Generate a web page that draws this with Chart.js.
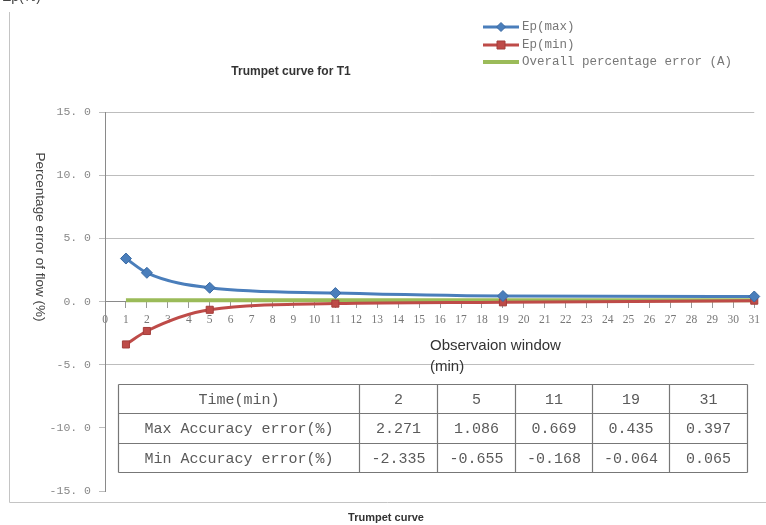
<!DOCTYPE html>
<html>
<head>
<meta charset="utf-8">
<style>
  html, body { margin: 0; padding: 0; background: #ffffff; }
  #wrap { width: 766px; height: 525px; position: relative; }
  canvas { display: block; }
</style>
<script src="https://cdn.jsdelivr.net/npm/chart.js@4.4.1/dist/chart.umd.min.js"></script>
</head>
<body>
<div id="wrap"><canvas id="trumpet" width="766" height="525"></canvas></div>
<script>
// Observation windows (min) at which the errors were evaluated
const times = [1, 2, 5, 11, 19, 31];
// Maximum / minimum percentage error for each window (%)
const epMax = [3.4, 2.271, 1.086, 0.669, 0.435, 0.397];
const epMin = [-3.4, -2.335, -0.655, -0.168, -0.064, 0.065];
// Overall percentage error (A), flat reference line (%)
const overallError = [0.1, 0.1, 0.1, 0.1, 0.1, 0.1];

const seriesNames = ['Ep(max)', 'Ep(min)', 'Overall percentage error (A)'];
const yTickValues = [-15, -10, -5, 0, 5, 10, 15];
const yTickLabels = ['-15. 0', '-10. 0', '-5. 0', '0. 0', '5. 0', '10. 0', '15. 0'];

// Summary table rows (windows 2..31)
const tableHeader = 'Time(min)';
const tableRowNames = ['Max Accuracy error(%)', 'Min Accuracy error(%)'];

const BLUE = '#4a7ebb';
const RED = '#be4b48';
const GREEN = '#9bbb59';
const MONO = '"Liberation Mono", "DejaVu Sans Mono", monospace';
const SANS = '"Liberation Sans", Arial, sans-serif';

const toXY = (vals) => times.map((t, i) => ({ x: t, y: vals[i] }));

const decor = {
  id: 'sheetDecor',
  beforeDatasetsDraw(chart) {
    const { ctx, chartArea, scales } = chart;
    const y5 = scales.y.getPixelForValue(-5);
    const y15 = scales.y.getPixelForValue(-15);
    // blank band under the -5 grid line where the summary table sits
    ctx.save();
    ctx.fillStyle = '#ffffff';
    ctx.fillRect(chartArea.left + 1, y5 + 2, chart.width - chartArea.left - 1, y15 - y5 + 4);
    ctx.restore();
  },
  afterDraw(chart) {
    const { ctx } = chart;
    const ds = chart.data.datasets;
    ctx.save();

    // outer sheet frame
    ctx.strokeStyle = '#c4c4c4';
    ctx.lineWidth = 1;
    ctx.beginPath();
    ctx.moveTo(9.5, 12);
    ctx.lineTo(9.5, 502.5);
    ctx.lineTo(766, 502.5);
    ctx.stroke();

    // unit label in the top-left corner, running off the top edge
    ctx.fillStyle = '#444';
    ctx.font = '14px ' + SANS;
    ctx.textAlign = 'left';
    ctx.textBaseline = 'alphabetic';
    ctx.fillText('Ep(%)', 2, 1);

    // chart title
    ctx.fillStyle = '#333';
    ctx.font = 'bold 12px ' + SANS;
    ctx.textAlign = 'center';
    ctx.textBaseline = 'middle';
    ctx.fillText('Trumpet curve for T1', 291, 72);

    // legend
    const lx = 483, lw = 36;
    const rowsY = [27, 45, 62];
    ds.forEach((d, i) => {
      const y = rowsY[i];
      ctx.strokeStyle = d.borderColor;
      ctx.lineWidth = i === 2 ? 4 : 3;
      ctx.beginPath();
      ctx.moveTo(lx, y);
      ctx.lineTo(lx + lw, y);
      ctx.stroke();
      if (d.pointRadius > 0) {
        ctx.fillStyle = d.pointBackgroundColor;
        ctx.strokeStyle = d.pointBorderColor;
        ctx.lineWidth = 1;
        ctx.beginPath();
        const cx = lx + lw / 2;
        if (d.pointStyle === 'rectRot') {
          const r = 4.5;
          ctx.moveTo(cx, y - r); ctx.lineTo(cx + r, y); ctx.lineTo(cx, y + r); ctx.lineTo(cx - r, y); ctx.closePath();
        } else {
          ctx.rect(cx - 4, y - 4, 8, 8);
        }
        ctx.fill();
        ctx.stroke();
      }
      ctx.fillStyle = '#777';
      ctx.font = '12.5px ' + MONO;
      ctx.textAlign = 'left';
      ctx.textBaseline = 'middle';
      ctx.fillText(d.label, lx + lw + 3, y);
    });

    // y axis title, reading top to bottom
    ctx.save();
    ctx.translate(40, 237);
    ctx.rotate(Math.PI / 2);
    ctx.fillStyle = '#444';
    ctx.font = '13.5px ' + SANS;
    ctx.textAlign = 'center';
    ctx.textBaseline = 'middle';
    ctx.fillText('Percentage error of flow (%)', 0, 0);
    ctx.restore();

    // x axis title
    ctx.fillStyle = '#333';
    ctx.font = '15px ' + SANS;
    ctx.textAlign = 'left';
    ctx.textBaseline = 'middle';
    ctx.fillText('Observaion window', 430, 346);
    ctx.fillText('(min)', 430, 367);

    // summary table
    const colX = [118.5, 359.5, 437.5, 515.5, 592.5, 669.5, 747.5];
    const rowY = [384.5, 413.5, 443.5, 472.5];
    ctx.fillStyle = '#ffffff';
    ctx.fillRect(colX[0], rowY[0], colX[6] - colX[0], rowY[3] - rowY[0]);
    ctx.strokeStyle = '#777';
    ctx.lineWidth = 1.2;
    ctx.beginPath();
    colX.forEach(x => { ctx.moveTo(x, rowY[0]); ctx.lineTo(x, rowY[3]); });
    rowY.forEach(y => { ctx.moveTo(colX[0], y); ctx.lineTo(colX[6], y); });
    ctx.stroke();

    const cells = [
      [tableHeader].concat(times.slice(1).map(String)),
      [tableRowNames[0]].concat(epMax.slice(1).map(v => v.toFixed(3))),
      [tableRowNames[1]].concat(epMin.slice(1).map(v => v.toFixed(3)))
    ];
    ctx.fillStyle = '#5a5a5a';
    ctx.font = '15px ' + MONO;
    ctx.textAlign = 'center';
    ctx.textBaseline = 'middle';
    cells.forEach((row, r) => {
      const cy = (rowY[r] + rowY[r + 1]) / 2 + 1;
      row.forEach((txt, c) => {
        ctx.fillText(txt, (colX[c] + colX[c + 1]) / 2, cy);
      });
    });

    // caption under the sheet
    ctx.fillStyle = '#333';
    ctx.font = 'bold 11px ' + SANS;
    ctx.textAlign = 'center';
    ctx.textBaseline = 'middle';
    ctx.fillText('Trumpet curve', 386, 518);

    ctx.restore();
  }
};

new Chart(document.getElementById('trumpet'), {
  type: 'line',
  data: {
    datasets: [
      {
        label: seriesNames[0],
        data: toXY(epMax),
        borderColor: BLUE,
        backgroundColor: BLUE,
        borderWidth: 3,
        pointStyle: 'rectRot',
        pointRadius: 5.5,
        pointBackgroundColor: BLUE,
        pointBorderColor: '#3a6aa3',
        pointBorderWidth: 1,
        cubicInterpolationMode: 'monotone',
        clip: false,
        order: 1
      },
      {
        label: seriesNames[1],
        data: toXY(epMin),
        borderColor: RED,
        backgroundColor: RED,
        borderWidth: 3,
        pointStyle: 'rect',
        pointRadius: 5,
        pointBackgroundColor: RED,
        pointBorderColor: '#a33e3b',
        pointBorderWidth: 1,
        cubicInterpolationMode: 'monotone',
        clip: false,
        order: 2
      },
      {
        label: seriesNames[2],
        data: toXY(overallError),
        borderColor: GREEN,
        backgroundColor: GREEN,
        borderWidth: 4,
        pointRadius: 0,
        clip: false,
        order: 3
      }
    ]
  },
  options: {
    responsive: false,
    animation: false,
    devicePixelRatio: 1,
    layout: { padding: { top: 112, bottom: 34, left: 0, right: 9 } },
    plugins: {
      legend: { display: false },
      title: { display: false },
      tooltip: { enabled: false }
    },
    scales: {
      x: {
        type: 'linear',
        position: { y: 0 },
        min: 0,
        max: 31,
        ticks: {
          stepSize: 1,
          autoSkip: false,
          maxRotation: 0,
          color: '#777',
          padding: 6,
          font: { family: '"Liberation Serif", serif', size: 11.5 }
        },
        grid: { drawOnChartArea: false, tickLength: 6, color: '#999' },
        border: { color: '#8a8a8a', width: 1 }
      },
      y: {
        min: -15,
        max: 15,
        afterFit(scale) { scale.width = 105; },
        afterBuildTicks(scale) { scale.ticks = yTickValues.map(v => ({ value: v })); },
        ticks: {
          color: '#888',
          padding: 8,
          font: { family: MONO, size: 11.5 },
          callback: (v) => yTickLabels[yTickValues.indexOf(v)]
        },
        grid: { color: '#bdbdbd', tickLength: 6 },
        border: { color: '#8a8a8a', width: 1 }
      }
    }
  },
  plugins: [decor]
});
</script>
</body>
</html>
